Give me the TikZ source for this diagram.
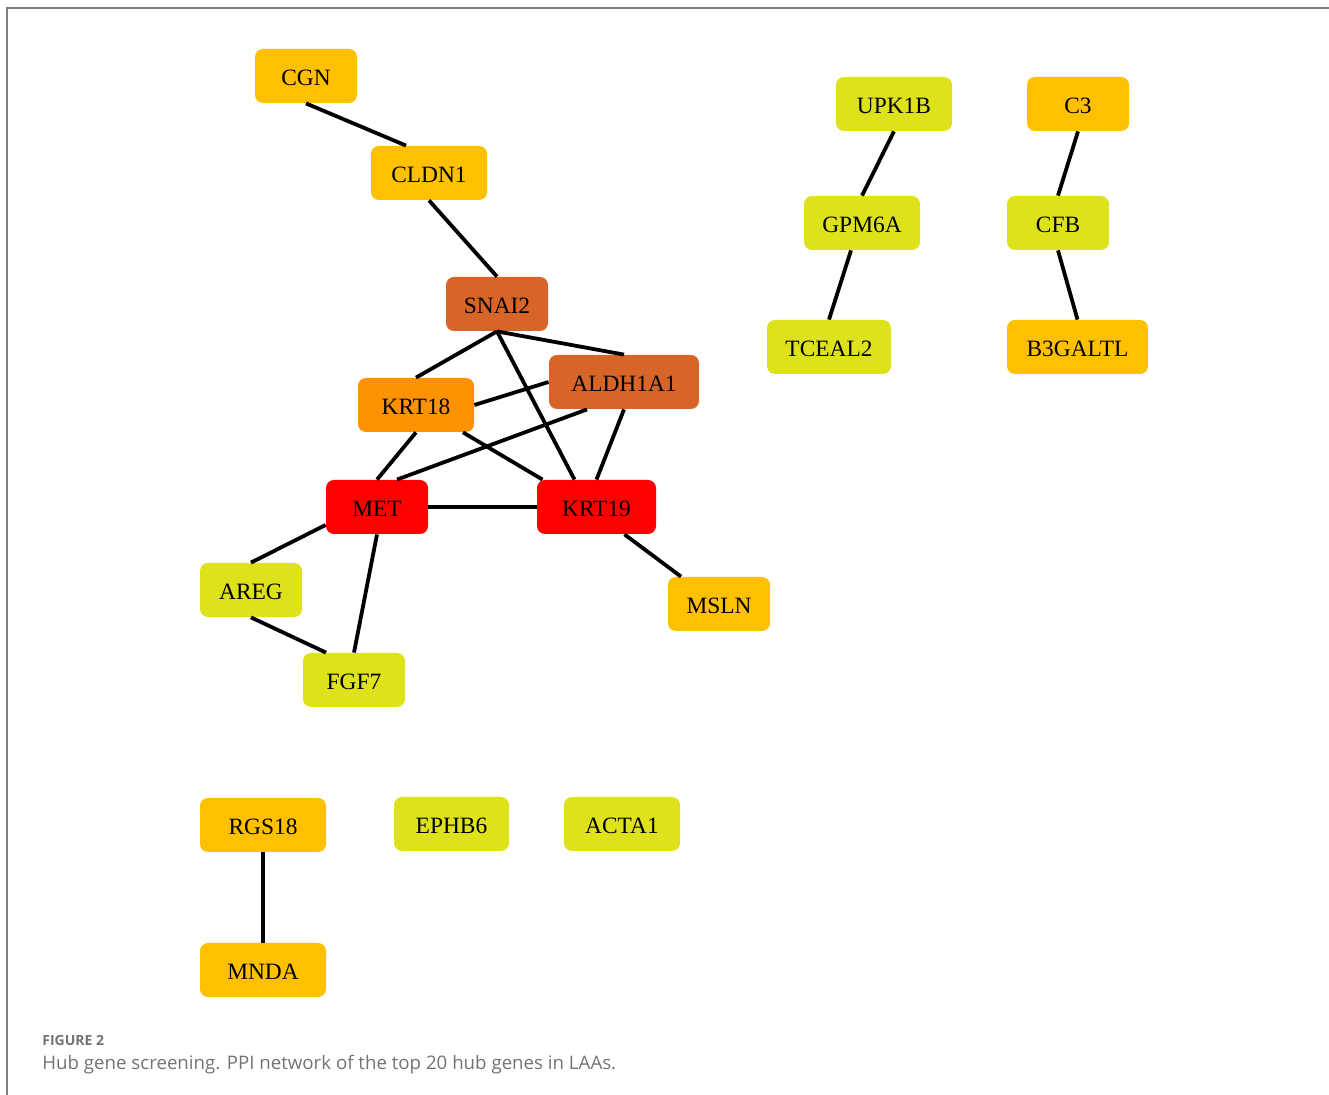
\documentclass[tikz,border=0pt]{standalone}
\usepackage{fontspec}
\setmainfont{Liberation Serif}
\newfontfamily\capfont{Open Sans}
\usetikzlibrary{calc}
\definecolor{cyel}{RGB}{255,192,0}
\definecolor{cgrn}{RGB}{222,226,26}
\definecolor{csie}{RGB}{216,101,40}
\definecolor{corg}{RGB}{255,146,0}
\definecolor{cred}{RGB}{255,0,0}
\definecolor{cframe}{RGB}{128,128,128}
\definecolor{ccap}{RGB}{115,115,115}
\tikzset{
  gene/.style={rounded corners=4pt, inner sep=0pt, minimum height=27pt, text height=9.4pt, text depth=0pt, font=\fontsize{11.7}{11.7}\selectfont, text=black},
  gy/.style={gene, fill=cyel},
  gg/.style={gene, fill=cgrn},
  gs/.style={gene, fill=csie},
  go/.style={gene, fill=corg},
  gr/.style={gene, fill=cred},
  link/.style={line width=1.9pt, black},
}
\begin{document}
\begin{tikzpicture}[x=0.5pt,y=-0.5pt]
\useasboundingbox (0,0) rectangle (1329,1095);
\draw[cframe, line width=0.8pt] (7,1095) -- (7,8) -- (1329,8);
% nodes
\node[gy, minimum width=51pt] (CGN) at (306,76) {CGN};
\node[gy, minimum width=58pt] (CLDN1) at (429,173) {CLDN1};
\node[gs, minimum width=51pt] (SNAI2) at (497,304) {SNAI2};
\node[gs, minimum width=75pt] (ALDH1A1) at (624,382) {ALDH1A1};
\node[go, minimum width=58pt] (KRT18) at (416,405) {KRT18};
\node[gr, minimum width=51pt] (MET) at (377,507) {MET};
\node[gr, minimum width=59.5pt] (KRT19) at (596.5,507) {KRT19};
\node[gg, minimum width=51pt] (AREG) at (251,590) {AREG};
\node[gg, minimum width=51pt] (FGF7) at (354,680) {FGF7};
\node[gy, minimum width=51pt] (MSLN) at (719,604) {MSLN};
\node[gg, minimum width=58pt] (UPK1B) at (894,104) {UPK1B};
\node[gg, minimum width=58pt] (GPM6A) at (862,223) {GPM6A};
\node[gg, minimum width=62pt] (TCEAL2) at (829,347) {TCEAL2};
\node[gy, minimum width=51pt] (C3) at (1078,104) {C3};
\node[gg, minimum width=51pt] (CFB) at (1058,223) {CFB};
\node[gy, minimum width=70.5pt] (B3GALTL) at (1077.5,347) {B3GALTL};
\node[gy, minimum width=63pt] (RGS18) at (263,825) {RGS18};
\node[gg, minimum width=57.5pt] (EPHB6) at (451.5,824) {EPHB6};
\node[gg, minimum width=58pt] (ACTA1) at (622,824) {ACTA1};
\node[gy, minimum width=63pt] (MNDA) at (263,970) {MNDA};
% edges
\draw[link] (CGN.south) -- ($(CLDN1.north)+(-23,0)$);
\draw[link] (CLDN1.south) -- (SNAI2.north);
\draw[link] (SNAI2.south) -- (KRT18.north);
\draw[link] (SNAI2.south) -- (ALDH1A1.north);
\draw[link] (SNAI2.south) -- ($(KRT19.north)+(-22,0)$);
\draw[link] (KRT18.east) -- (ALDH1A1.west);
\draw[link] ($(KRT18.south)+(47,0)$) -- ($(KRT19.north)+(-54,0)$);
\draw[link] (KRT18.south) -- (MET.north);
\draw[link] ($(ALDH1A1.south)+(-37,0)$) -- ($(MET.north)+(20,0)$);
\draw[link] (ALDH1A1.south) -- (KRT19.north);
\draw[link] (MET.east) -- (KRT19.west);
\draw[link] ($(MET.west)+(0,18)$) -- (AREG.north);
\draw[link] (MET.south) -- (FGF7.north);
\draw[link] (AREG.south) -- ($(FGF7.north)+(-28,0)$);
\draw[link] ($(KRT19.south)+(28,0)$) -- ($(MSLN.north)+(-38,0)$);
\draw[link] (UPK1B.south) -- (GPM6A.north);
\draw[link] ($(GPM6A.south)+(-11,0)$) -- (TCEAL2.north);
\draw[link] (C3.south) -- (CFB.north);
\draw[link] (CFB.south) -- (B3GALTL.north);
\draw[link] (RGS18.south) -- (MNDA.north);
% caption
\node[anchor=west, inner sep=0pt, text=ccap, font=\capfont\bfseries\fontsize{7}{7}\selectfont] (figlabel) at (42,1041) {FIGURE 2};
\node[anchor=west, inner sep=0pt, text=ccap, font=\capfont\fontsize{9.34}{9.34}\selectfont] (caption) at (42,1065) {Hub gene screening. PPI network of the top 20 hub genes in LAAs.};
\end{tikzpicture}
\end{document}
